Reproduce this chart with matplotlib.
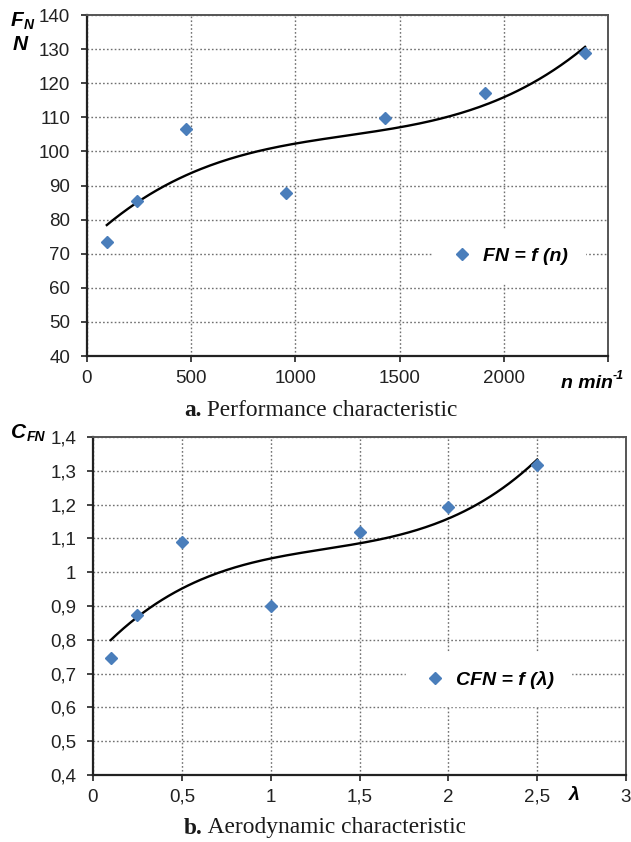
import matplotlib
matplotlib.use("Agg")
import matplotlib.pyplot as plt
import numpy as np

# measured data (performance / aerodynamic characteristic)
n_rpm = [95, 240, 477, 955, 1432, 1910, 2390]
FN = [73.3, 85.5, 106.6, 87.8, 109.7, 117.0, 129.0]

lam = [0.1, 0.25, 0.5, 1.0, 1.5, 2.0, 2.5]
CFN = [0.747, 0.873, 1.089, 0.899, 1.118, 1.194, 1.316]

top_yticks = [40, 50, 60, 70, 80, 90, 100, 110, 120, 130, 140]
top_xticks = [0, 500, 1000, 1500, 2000, 2500]
top_xlabels = ["0", "500", "1000", "1500", "2000", ""]

bot_yticks = [0.4, 0.5, 0.6, 0.7, 0.8, 0.9, 1.0, 1.1, 1.2, 1.3, 1.4]
bot_ylabels = ["0,4", "0,5", "0,6", "0,7", "0,8", "0,9", "1", "1,1", "1,2", "1,3", "1,4"]
bot_xticks = [0, 0.5, 1, 1.5, 2, 2.5, 3]
bot_xlabels = ["0", "0,5", "1", "1,5", "2", "2,5", "3"]

W, H = 631, 842
BLUE = "#4A7EBB"
SANS = ["Liberation Sans", "DejaVu Sans"]
SERIF = ["Liberation Serif", "DejaVu Serif"]

plt.rcParams["font.family"] = SANS

fig = plt.figure(figsize=(W / 100, H / 100), dpi=100)


def px(x, y):
    """pixel (from top-left) -> figure fraction"""
    return x / W, 1 - y / H


def label(x, y, s, size=15, **kw):
    fig.text(*px(x, y), s, fontsize=size, fontweight="bold",
             fontstyle="italic", ha="center", va="center", **kw)


def style_axes(ax):
    ax.grid(True, linestyle=(0, (1.2, 1.6)), color="#707070", linewidth=1.0)
    ax.set_axisbelow(True)
    for s in ["left", "bottom"]:
        ax.spines[s].set_linewidth(1.6)
        ax.spines[s].set_color("#222222")
    for s in ["top", "right"]:
        ax.spines[s].set_linewidth(1.4)
        ax.spines[s].set_color("#555555")
    ax.tick_params(axis="both", direction="out", length=4, width=1.2,
                   labelsize=13.5, colors="#222222")
    ax.tick_params(axis="x", pad=6)
    ax.tick_params(axis="y", pad=8)


def trend(x, y):
    # third order polynomial trendline like the spreadsheet one
    c = np.polyfit(x, y, 3)
    xs = np.linspace(min(x), max(x), 200)
    return xs, np.polyval(c, xs)


def add_legend(ax, anchor):
    ax.legend(loc="center", bbox_to_anchor=anchor, frameon=True,
              fancybox=False, edgecolor="white", framealpha=1,
              handlelength=1.2, handletextpad=0.45, borderpad=0.9,
              borderaxespad=0,
              prop={"weight": "bold", "style": "italic", "size": 14})


# ---- a. performance characteristic
ax1 = fig.add_axes([87 / W, 1 - 356 / H, 521 / W, 341 / H])
xs, ys = trend(n_rpm, FN)
ax1.plot(xs, ys, color="black", lw=1.7, zorder=3)
ax1.plot(n_rpm, FN, linestyle="none", marker="D", markersize=6.5,
         color=BLUE, label="FN = f (n)", zorder=4)
ax1.set_xlim(0, 2500)
ax1.set_ylim(40, 140)
ax1.set_xticks(top_xticks)
ax1.set_xticklabels(top_xlabels)
ax1.set_yticks(top_yticks)
style_axes(ax1)
add_legend(ax1, (0.810, 0.292))

label(17, 20, "F")
label(29, 25, "N", size=10)
label(20, 45, "N")
label(587, 383, "n min", size=14)
label(618, 376, "-1", size=9)

# ---- b. aerodynamic characteristic
ax2 = fig.add_axes([93 / W, 1 - 775 / H, 533 / W, 338 / H])
xs, ys = trend(lam, CFN)
ax2.plot(xs, ys, color="black", lw=1.7, zorder=3)
ax2.plot(lam, CFN, linestyle="none", marker="D", markersize=6.5,
         color=BLUE, label="CFN = f (λ)", zorder=4)
ax2.set_xlim(0, 3)
ax2.set_ylim(0.4, 1.4)
ax2.set_xticks(bot_xticks)
ax2.set_xticklabels(bot_xlabels)
ax2.set_yticks(bot_yticks)
ax2.set_yticklabels(bot_ylabels)
style_axes(ax2)
add_legend(ax2, (0.742, 0.282))

label(19, 432, "C")
label(36, 437, "FN", size=10)
label(574, 795, "λ", size=14)

# ---- captions (bold letter + regular text)
for y, letter, rest in [(410, "a.", " Performance characteristic"),
                        (828, "b.", " Aerodynamic characteristic")]:
    t = fig.text(*px(184, y), letter, family=SERIF, fontsize=16.8,
                 fontweight="bold", ha="left", va="center", color="#1a1a1a")
    ax1.annotate(rest, xy=(1, 0), xycoords=t, ha="left", va="bottom",
                 family=SERIF, fontsize=16.8, color="#1a1a1a",
                 annotation_clip=False)

fig.savefig("out.png", dpi=100)
